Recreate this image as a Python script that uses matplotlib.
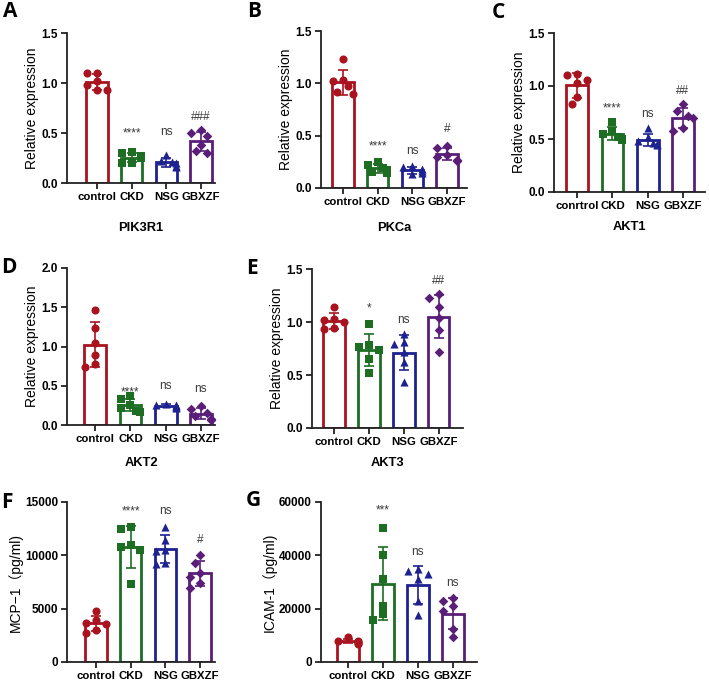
import numpy as np
import matplotlib
matplotlib.use("Agg")
import matplotlib.pyplot as plt

plt.rcParams['font.family'] = ['Liberation Sans', 'Noto Sans CJK SC', 'DejaVu Sans']

# groups and data (6 animals per group)
groups = ['control', 'CKD', 'NSG', 'GBXZF']
groups_c = ['conrtrol', 'CKD', 'NSG', 'GBXZF']   # typo kept as in original panel C

pik3r1 = [[1.10, 1.10, 1.02, 0.98, 0.93, 0.93],
          [0.31, 0.30, 0.27, 0.25, 0.20, 0.20],
          [0.28, 0.22, 0.21, 0.20, 0.17, 0.16],
          [0.53, 0.50, 0.47, 0.38, 0.32, 0.30]]
pkca = [[1.23, 1.03, 1.02, 0.97, 0.92, 0.90],
        [0.25, 0.22, 0.19, 0.17, 0.15, 0.14],
        [0.21, 0.20, 0.18, 0.16, 0.14, 0.13],
        [0.40, 0.38, 0.32, 0.30, 0.27, 0.26]]
akt1 = [[1.11, 1.10, 1.06, 1.03, 0.90, 0.83],
        [0.66, 0.58, 0.55, 0.52, 0.50, 0.49],
        [0.60, 0.52, 0.48, 0.46, 0.45, 0.44],
        [0.83, 0.76, 0.72, 0.70, 0.60, 0.58]]
akt2 = [[1.47, 1.23, 1.04, 0.89, 0.78, 0.74],
        [0.37, 0.33, 0.26, 0.22, 0.18, 0.17],
        [0.27, 0.26, 0.25, 0.24, 0.23, 0.22],
        [0.24, 0.21, 0.15, 0.12, 0.08, 0.07]]
akt3 = [[1.14, 1.03, 1.02, 1.00, 0.94, 0.93],
        [0.98, 0.78, 0.76, 0.74, 0.65, 0.52],
        [0.89, 0.81, 0.79, 0.72, 0.62, 0.43],
        [1.26, 1.23, 1.14, 1.04, 0.92, 0.72]]
mcp1 = [[4800, 3900, 3700, 3600, 3000, 2700],
        [12700, 12500, 11000, 10800, 10500, 7300],
        [12700, 11400, 10500, 10400, 9300, 9200],
        [10000, 9300, 8300, 8000, 7400, 6900]]
icam1 = [[9200, 8000, 7700, 7500, 7300, 6900],
         [50300, 40100, 31000, 21000, 17900, 15800],
         [35000, 34000, 33000, 31000, 23000, 17500],
         [24000, 23000, 21000, 19000, 12500, 9500]]

sig_pik3r1 = ['', '****', 'ns', '###']
sig_pkca = ['', '****', 'ns', '#']
sig_akt1 = ['', '****', 'ns', '##']
sig_akt2 = ['', '****', 'ns', 'ns']
sig_akt3 = ['', '*', 'ns', '##']
sig_mcp1 = ['', '****', 'ns', '#']
sig_icam1 = ['', '***', 'ns', 'ns']

colors = ['#A8131F', '#1D6E22', '#1E2190', '#5A1E78']
markers = ['o', 's', '^', 'D']
msizes = [34, 30, 34, 24]

W, H = 709, 684
fig = plt.figure(figsize=(W / 100, H / 100), dpi=100)

# layout: axes box in pixels, xlim, y max, tick step, sig label heights, title, letter
panels = [
    dict(data=pik3r1, sig=sig_pik3r1, sig_y=[0, 0.50, 0.51, 0.66], labels=groups,
         box=(67, 33, 215, 183), xlim=(-0.86, 3.4), ymax=1.5, step=0.5,
         ylabel='Relative expression', title='PIK3R1', title_y=228, letter='A', lxy=(3, 1)),
    dict(data=pkca, sig=sig_pkca, sig_y=[0, 0.40, 0.35, 0.56], labels=groups,
         box=(321, 31, 467, 188), xlim=(-0.63, 3.57), ymax=1.5, step=0.5,
         ylabel='Relative expression', title='PKCa', title_y=228, letter='B', lxy=(247, 1)),
    dict(data=akt1, sig=sig_akt1, sig_y=[0, 0.79, 0.74, 0.95], labels=groups_c,
         box=(554, 33, 705, 192), xlim=(-0.66, 3.63), ymax=1.5, step=0.5,
         ylabel='Relative expression', title='AKT1', title_y=227, letter='C', lxy=(492, 2)),
    dict(data=akt2, sig=sig_akt2, sig_y=[0, 0.41, 0.50, 0.46], labels=groups,
         box=(67, 268, 215, 425), xlim=(-0.8, 3.4), ymax=2.0, step=0.5,
         ylabel='Relative expression', title='AKT2', title_y=463, letter='D', lxy=(1, 257)),
    dict(data=akt3, sig=sig_akt3, sig_y=[0, 1.13, 1.02, 1.39], labels=groups,
         box=(312, 269, 463, 428), xlim=(-0.63, 3.7), ymax=1.5, step=0.5,
         ylabel='Relative expression', title='AKT3', title_y=463, letter='E', lxy=(246, 258)),
    dict(data=mcp1, sig=sig_mcp1, sig_y=[0, 14070, 14150, 11400], labels=groups,
         box=(67, 502, 215, 662), xlim=(-0.83, 3.43), ymax=15000, step=5000,
         ylabel='MCP−1（pg/ml)', title=None, title_y=None, letter='F', lxy=(1, 492)),
    dict(data=icam1, sig=sig_icam1, sig_y=[0, 56900, 41350, 29770], labels=groups,
         box=(321, 502, 477, 662), xlim=(-0.77, 3.69), ymax=60000, step=20000,
         ylabel='ICAM-1（pg/ml)', title=None, title_y=None, letter='G', lxy=(246, 490)),
]


def swarm_offsets(vals, ppu_x, ppu_y, dmin=8.0):
    cands = [0.0, -0.16, 0.16, -0.28, 0.28]
    placed = []
    for v in vals:
        best = cands[-1]
        for c in cands:
            if all(np.hypot((c - pc) * ppu_x, (v - pv) * ppu_y) >= dmin for pc, pv in placed):
                best = c
                break
        placed.append((best, v))
    return [p[0] for p in placed]


for p in panels:
    x0, y0, x1, y1 = p['box']
    ax = fig.add_axes([x0 / W, 1 - y1 / H, (x1 - x0) / W, (y1 - y0) / H])
    ppu_x = (x1 - x0) / (p['xlim'][1] - p['xlim'][0])
    ppu_y = (y1 - y0) / p['ymax']
    for i, vals in enumerate(p['data']):
        vals = np.array(vals, dtype=float)
        m, sd = vals.mean(), vals.std(ddof=1)
        ax.bar(i, m, width=0.62, facecolor='white', edgecolor=colors[i],
               linewidth=2.0, zorder=2)
        ax.errorbar(i, m, yerr=sd, color=colors[i], capsize=3.8, elinewidth=1.2,
                    capthick=1.2, zorder=3)
        offs = swarm_offsets(vals, ppu_x, ppu_y)
        ax.scatter(i + np.array(offs), vals, marker=markers[i], s=msizes[i],
                   color=colors[i], linewidths=0, zorder=4, clip_on=False)
        if p['sig'][i]:
            ax.text(i, p['sig_y'][i], p['sig'][i], ha='center', va='center',
                    fontsize=8.5, color='#3a3a3a')

    ax.set_xlim(*p['xlim'])
    ax.set_ylim(0, p['ymax'])
    ax.set_yticks(np.arange(0, p['ymax'] + p['step'] / 2, p['step']))
    ax.set_xticks(range(4))
    ax.set_xticklabels(p['labels'])
    for s in ['top', 'right']:
        ax.spines[s].set_visible(False)
    for s in ['left', 'bottom']:
        ax.spines[s].set_linewidth(1.3)
        ax.spines[s].set_color('#222222')
    ax.tick_params(direction='out', length=4.5, width=1.3, color='#222222', pad=2)
    for lab in ax.get_yticklabels():
        lab.set_fontweight('bold')
        lab.set_fontsize(8.5)
    for lab in ax.get_xticklabels():
        lab.set_fontweight('bold')
        lab.set_fontsize(8.2)
    ax.set_ylabel(p['ylabel'], fontsize=10, labelpad=1.5)

    if p['title']:
        fig.text(((x0 + x1) / 2) / W, 1 - p['title_y'] / H, p['title'],
                 ha='center', va='center', fontsize=9.3, fontweight='bold')
    fig.text(p['lxy'][0] / W, 1 - p['lxy'][1] / H, p['letter'], ha='left', va='top',
             fontsize=15, fontweight='bold', family=['Open Sans', 'DejaVu Sans'])

fig.savefig('out.png', dpi=100)
